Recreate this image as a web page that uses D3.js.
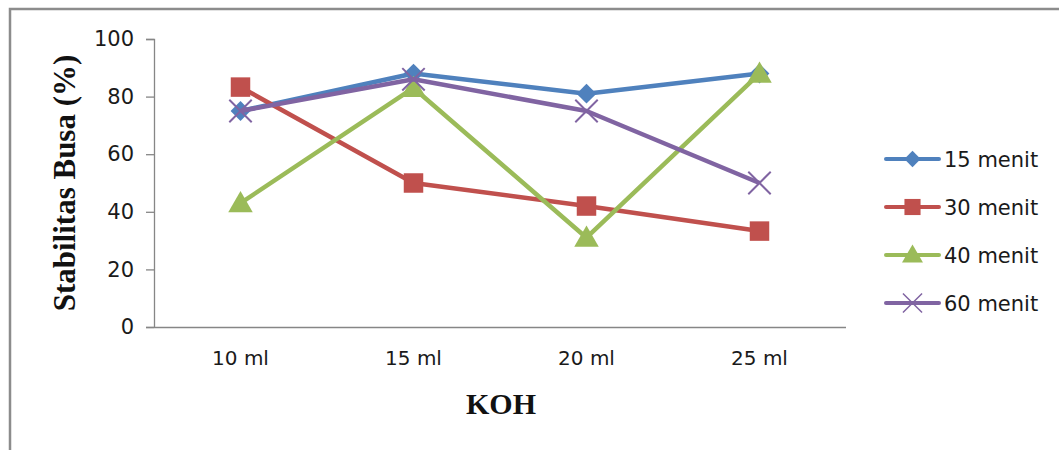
<!DOCTYPE html>
<html><head><meta charset="utf-8">
<script src="https://cdn.jsdelivr.net/npm/d3@7"></script>
<style>body{margin:0;background:#fff}svg{display:block}</style>
</head><body>
<script>
const categories = ["10 ml", "15 ml", "20 ml", "25 ml"];
const seriesNames = ["15 menit", "30 menit", "40 menit", "60 menit"];
const s15 = [75, 88, 81, 88];
const s30 = [83.3, 50, 42, 33.3];
const s40 = [43, 83, 31, 88];
const s60 = [75, 86, 75, 50];
const yTicks = [0, 20, 40, 60, 80, 100];

const colors = ["#4F81BD", "#C0504D", "#9BBB59", "#8064A2"];
const symbols = [d3.symbolDiamond2, d3.symbolSquare, d3.symbolTriangle, d3.symbolX];
const values = [s15, s30, s40, s60];

const W = 1059, H = 450;
const svg = d3.select("body").append("svg").attr("width", W).attr("height", H);

// outer frame (top and left visible)
svg.append("path").attr("d", `M10,${H} L10,9 L${W},9`).attr("fill", "none")
  .attr("stroke", "#8c8c8c").attr("stroke-width", 2.5);

const x = d3.scaleBand().domain(categories).range([154, 846]);
const y = d3.scaleLinear().domain([0, 100]).range([327, 39]);

const font = "'DejaVu Sans', sans-serif";

// y axis
const yAxis = svg.append("g").attr("transform", "translate(154,0)")
  .call(d3.axisLeft(y).tickValues(yTicks).tickSize(8).tickPadding(12));
yAxis.select(".domain").attr("stroke", "#868686").attr("stroke-width", 1.3).attr("d", "M-8,39.5H0.5V327");
yAxis.selectAll(".tick line").attr("stroke", "#868686").attr("stroke-width", 1.3);
yAxis.selectAll(".tick text").attr("font-family", font).attr("font-size", 21).attr("fill", "#1a1a1a");

// x axis
const xAxis = svg.append("g").attr("transform", "translate(0,327)")
  .call(d3.axisBottom(x).tickSize(0).tickPadding(24));
xAxis.select(".domain").attr("stroke", "#868686").attr("stroke-width", 1.3).attr("d", "M146,0.5H846");
xAxis.selectAll(".tick text").attr("font-family", font).attr("font-size", 20).attr("fill", "#1a1a1a");

// titles
svg.append("text").attr("transform", "translate(75,183) rotate(-90)")
  .attr("text-anchor", "middle").attr("font-family", "'Liberation Serif', serif")
  .attr("font-weight", "bold").attr("font-size", 31).attr("fill", "#111").text("Stabilitas Busa (%)");
svg.append("text").attr("x", 501).attr("y", 414)
  .attr("text-anchor", "middle").attr("font-family", "'Liberation Serif', serif")
  .attr("font-weight", "bold").attr("font-size", 30).attr("fill", "#111").text("KOH");

const cx = c => x(c) + x.bandwidth() / 2;
const line = d3.line().x((d, i) => cx(categories[i])).y(d => y(d));
const sizes = [250, 380, 260, 330];
const legSizes = [170, 260, 190, 240];

values.forEach((vals, k) => {
  const g = svg.append("g");
  g.append("path").datum(vals).attr("d", line).attr("fill", "none")
    .attr("stroke", colors[k]).attr("stroke-width", 4.5).attr("stroke-linejoin", "round");
  g.selectAll("path.m").data(vals).join("path").attr("class", "m")
    .attr("transform", (d, i) => `translate(${cx(categories[i])},${y(d) + (k === 2 ? 2 : 0)})`)
    .attr("d", d3.symbol().type(symbols[k]).size(sizes[k]))
    .attr("fill", k === 3 ? "none" : colors[k])
    .attr("stroke", colors[k]).attr("stroke-width", k === 3 ? 2 : 0);
});

// legend
const legY = [159, 207, 255, 303];
seriesNames.forEach((name, k) => {
  const g = svg.append("g").attr("transform", `translate(0,${legY[k]})`);
  g.append("line").attr("x1", 886).attr("x2", 939).attr("y1", 0).attr("y2", 0)
    .attr("stroke", colors[k]).attr("stroke-width", 4).attr("stroke-linecap", "round");
  g.append("path").attr("transform", `translate(912.5,${k === 2 ? 1.5 : 0})`)
    .attr("d", d3.symbol().type(symbols[k]).size(legSizes[k]))
    .attr("fill", k === 3 ? "none" : colors[k])
    .attr("stroke", colors[k]).attr("stroke-width", k === 3 ? 1.5 : 0);
  g.append("text").attr("x", 944).attr("y", 0).attr("dy", "0.36em")
    .attr("font-family", font).attr("font-size", 21).attr("fill", "#1a1a1a").text(name);
});
</script>
</body></html>
